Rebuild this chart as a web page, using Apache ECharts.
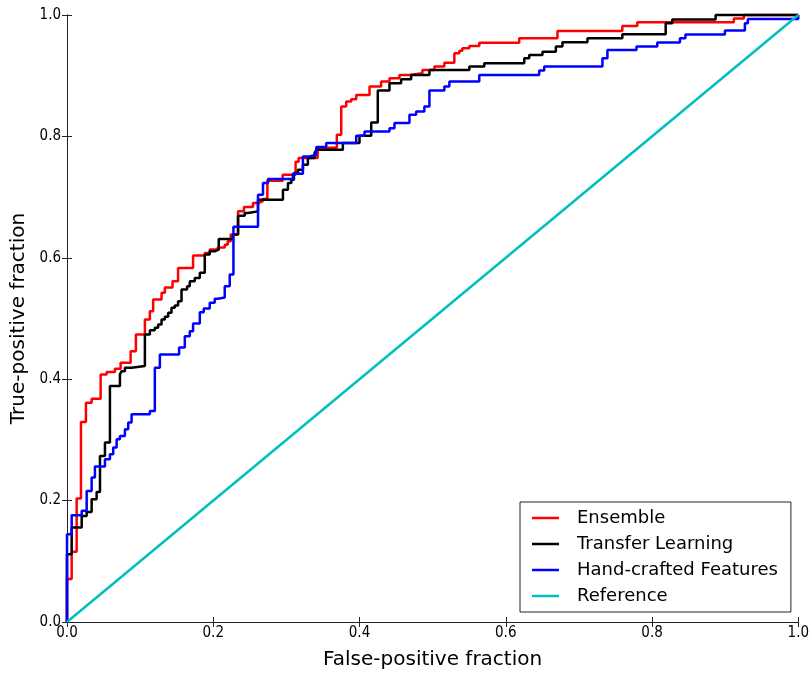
<!DOCTYPE html>
<html>
<head>
<meta charset="utf-8">
<script src="https://cdn.jsdelivr.net/npm/echarts@6.0.0/dist/echarts.min.js"></script>
<style>
  html, body { margin: 0; padding: 0; background: #fff; }
  #chart { width: 812px; height: 675px; }
</style>
</head>
<body>
<div id="chart"></div>
<script>
// ROC points (x = false-positive fraction, y = true-positive fraction)
const ensembleFpr = [0, 0, 0.0064, 0.0132, 0.0191, 0.0259, 0.0337, 0.0460, 0.0542, 0.0655, 0.0733, 0.0870, 0.0942, 0.1065, 0.1133, 0.1178, 0.1293, 0.1338, 0.1443, 0.1519, 0.1724, 0.1884, 0.1952, 0.2061, 0.2157, 0.2198, 0.2239, 0.2339, 0.2420, 0.2543, 0.2612, 0.2676, 0.2740, 0.2949, 0.3126, 0.3167, 0.3427, 0.3690, 0.3750, 0.3818, 0.3887, 0.3955, 0.4137, 0.4296, 0.4410, 0.4546, 0.4683, 0.4860, 0.5024, 0.5160, 0.5297, 0.5365, 0.5406, 0.5502, 0.5638, 0.6184, 0.6707, 0.7594, 0.7799, 0.9119, 0.9256, 1.0];
const ensembleTpr = [0, 0.0707, 0.1156, 0.2035, 0.3294, 0.3613, 0.3679, 0.4079, 0.4117, 0.4173, 0.4271, 0.4462, 0.4737, 0.4984, 0.5120, 0.5313, 0.5423, 0.5510, 0.5613, 0.5834, 0.6036, 0.6081, 0.6135, 0.6168, 0.6217, 0.6271, 0.6382, 0.6765, 0.6837, 0.6903, 0.6929, 0.6969, 0.7270, 0.7368, 0.7582, 0.7643, 0.7812, 0.8026, 0.8492, 0.8574, 0.8614, 0.8684, 0.8821, 0.8903, 0.8959, 0.9013, 0.9041, 0.9095, 0.9150, 0.9215, 0.9370, 0.9413, 0.9453, 0.9490, 0.9544, 0.9617, 0.9737, 0.9819, 0.9880, 0.9942, 1.0, 1.0];

const transferFpr = [0, 0, 0.0064, 0.0201, 0.0269, 0.0337, 0.0405, 0.0451, 0.0519, 0.0587, 0.0724, 0.0747, 0.0792, 0.0883, 0.1065, 0.1133, 0.1201, 0.1246, 0.1293, 0.1338, 0.1383, 0.1429, 0.1474, 0.1519, 0.1566, 0.1642, 0.1679, 0.1747, 0.1816, 0.1884, 0.1952, 0.2020, 0.2075, 0.2270, 0.2339, 0.2430, 0.2475, 0.2612, 0.2953, 0.3021, 0.3068, 0.3103, 0.3158, 0.3226, 0.3294, 0.3386, 0.3409, 0.3772, 0.4000, 0.4160, 0.4250, 0.4410, 0.4569, 0.4706, 0.4956, 0.5502, 0.5706, 0.6253, 0.6321, 0.6502, 0.6685, 0.6775, 0.7117, 0.7594, 0.8187, 0.8277, 0.8870, 1.0];
const transferTpr = [0, 0.1118, 0.1558, 0.1748, 0.1814, 0.2023, 0.2143, 0.2735, 0.2956, 0.3887, 0.4079, 0.4133, 0.4189, 0.4216, 0.4737, 0.4808, 0.4847, 0.4901, 0.4984, 0.5028, 0.5094, 0.5176, 0.5214, 0.5285, 0.5477, 0.5531, 0.5613, 0.5669, 0.5752, 0.6053, 0.6107, 0.6135, 0.6311, 0.6382, 0.6694, 0.6738, 0.6765, 0.6957, 0.7122, 0.7232, 0.7286, 0.7396, 0.7451, 0.7533, 0.7643, 0.7725, 0.7780, 0.7890, 0.8010, 0.8229, 0.8755, 0.8877, 0.8941, 0.9013, 0.9095, 0.9150, 0.9206, 0.9288, 0.9342, 0.9396, 0.9479, 0.9551, 0.9617, 0.9682, 0.9863, 0.9926, 1.0, 1.0];

const handFpr = [0, 0, 0.0064, 0.0201, 0.0269, 0.0337, 0.0382, 0.0519, 0.0587, 0.0632, 0.0679, 0.0724, 0.0792, 0.0837, 0.0883, 0.1133, 0.1201, 0.1270, 0.1533, 0.1611, 0.1679, 0.1724, 0.1816, 0.1870, 0.1952, 0.2020, 0.2066, 0.2157, 0.2225, 0.2276, 0.2612, 0.2680, 0.2748, 0.3089, 0.3226, 0.3317, 0.3409, 0.3545, 0.3955, 0.4068, 0.4410, 0.4478, 0.4683, 0.4774, 0.4887, 0.4956, 0.5160, 0.5229, 0.5638, 0.6457, 0.6526, 0.7322, 0.7390, 0.7788, 0.8072, 0.8382, 0.8457, 0.8997, 0.9270, 0.9311, 1.0];
const handTpr = [0, 0.1447, 0.1760, 0.1831, 0.2160, 0.2380, 0.2561, 0.2681, 0.2763, 0.2873, 0.3010, 0.3064, 0.3174, 0.3285, 0.3421, 0.3475, 0.4189, 0.4408, 0.4523, 0.4709, 0.4791, 0.4918, 0.5104, 0.5164, 0.5258, 0.5324, 0.5345, 0.5531, 0.5724, 0.6513, 0.7039, 0.7232, 0.7298, 0.7385, 0.7669, 0.7697, 0.7824, 0.7890, 0.8010, 0.8081, 0.8136, 0.8219, 0.8355, 0.8410, 0.8492, 0.8755, 0.8821, 0.8903, 0.9013, 0.9084, 0.9150, 0.9288, 0.9424, 0.9479, 0.9548, 0.9617, 0.9679, 0.9745, 0.9863, 0.9934, 1.0];

const referenceFpr = [0, 1];
const referenceTpr = [0, 1];

const seriesNames = ['Ensemble', 'Transfer Learning', 'Hand-crafted Features', 'Reference'];
const seriesColors = ['#ff0000', '#000000', '#0000ff', '#00bfbf'];

const chart = echarts.init(document.getElementById('chart'));

const pairs = (xs, ys) => xs.map((x, i) => [x, ys[i]]);
const curves = [
    pairs(ensembleFpr, ensembleTpr),
    pairs(transferFpr, transferTpr),
    pairs(handFpr, handTpr),
    pairs(referenceFpr, referenceTpr)
];

const tickFont = "'DejaVu Sans Condensed', 'DejaVu Sans', sans-serif";
const frame = { show: true, lineStyle: { color: '#222', width: 1 } };
const ticks = { show: true, inside: true, length: 5, lineStyle: { color: '#222' } };

chart.setOption({
    animation: false,
    backgroundColor: '#fff',
    grid: { left: 67, right: 12.5, top: 15, bottom: 52 },
    xAxis: [
        {
            type: 'value', min: 0, max: 1, interval: 0.2,
            name: 'False-positive fraction',
            nameLocation: 'middle',
            nameGap: 28,
            nameTextStyle: { fontFamily: 'DejaVu Sans', fontSize: 20, color: '#000' },
            axisLine: frame,
            axisTick: ticks,
            splitLine: { show: false },
            axisLabel: {
                fontFamily: tickFont, fontSize: 15, color: '#000', margin: 4,
                formatter: v => v.toFixed(1)
            }
        },
        {
            type: 'value', min: 0, max: 1, interval: 0.2, position: 'top',
            axisLine: frame, axisTick: ticks,
            axisLabel: { show: false }, splitLine: { show: false }
        }
    ],
    yAxis: [
        {
            type: 'value', min: 0, max: 1, interval: 0.2,
            name: 'True-positive fraction',
            nameLocation: 'middle',
            nameGap: 30,
            nameTextStyle: { fontFamily: 'DejaVu Sans', fontSize: 20, color: '#000' },
            axisLine: frame,
            axisTick: ticks,
            splitLine: { show: false },
            axisLabel: {
                fontFamily: tickFont, fontSize: 15, color: '#000', margin: 6,
                formatter: v => v.toFixed(1)
            }
        },
        {
            type: 'value', min: 0, max: 1, interval: 0.2, position: 'right',
            axisLine: frame, axisTick: ticks,
            axisLabel: { show: false }, splitLine: { show: false }
        }
    ],
    legend: {
        data: seriesNames,
        orient: 'vertical',
        left: 520,
        top: 502,
        padding: [7, 13, 7, 12],
        icon: 'rect',
        itemWidth: 27,
        itemHeight: 2.5,
        itemGap: 8,
        borderColor: '#222',
        borderWidth: 1,
        backgroundColor: '#fff',
        textStyle: {
            fontFamily: 'DejaVu Sans', fontSize: 18, color: '#000',
            lineHeight: 18, padding: [0, 0, 0, 13]
        }
    },
    series: curves.map((data, i) => ({
        name: seriesNames[i],
        type: 'line',
        data: data,
        step: i < 3 ? 'end' : false,
        symbol: 'none',
        clip: false,
        color: seriesColors[i],
        lineStyle: { color: seriesColors[i], width: 2.5 }
    }))
});
</script>
</body>
</html>
